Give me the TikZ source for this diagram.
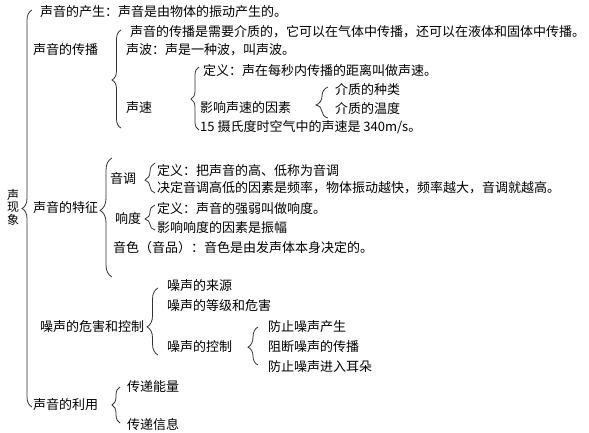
\documentclass[tikz,border=0pt]{standalone}
\usepackage{fontspec}
\setmainfont{Noto Sans CJK SC}
\usetikzlibrary{decorations.pathreplacing}

\begin{document}
\begin{tikzpicture}[x=1pt, y=-1pt,
    every node/.style={inner sep=0pt, anchor=west, font=\fontsize{13}{15}\selectfont},
    curly/.style 2 args={decorate, decoration={brace, amplitude=#1, aspect=#2}, line width=0.8pt, black!80}]
        \useasboundingbox (0,0) rectangle (589,433);
        \node [align=center, anchor=center, font=\fontsize{12}{12.5}\selectfont] (topic) at (13,207) {声\\现\\象};
        % first level
        \node (origin) at (40,12) {声音的产生：声音是由物体的振动产生的。};
        \node (spread) at (33,50) {声音的传播};
        \node (feature) at (33,208) {声音的特征};
        \node (noise) at (40,327) {噪声的危害和控制};
        \node (use) at (33,405) {声音的利用};
        % propagation
        \node (medium) at (130,32) {声音的传播是需要介质的，它可以在气体中传播，还可以在液体和固体中传播。};
        \node (wave) at (126,50) {声波：声是一种波，叫声波。};
        \node (speed) at (126,108) {声速};
        \node (speed-def) at (203,71) {定义：声在每秒内传播的距离叫做声速。};
        \node (speed-factor) at (200,108) {影响声速的因素};
        \node (speed-air) at (200,127) {15 摄氏度时空气中的声速是 340m/s。};
        \foreach \l/\y [count=\i] in {介质的种类/90, 介质的温度/109}
          \node (kind-\i) at (335,\y) {\l};
        % features
        \node (pitch) at (110,179) {音调};
        \node (pitch-def) at (157,171) {定义：把声音的高、低称为音调};
        \node (pitch-factor) at (157,188) {决定音调高低的因素是频率，物体振动越快，频率越大，音调就越高。};
        \node (loud) at (115,219) {响度};
        \node (loud-def) at (157,209) {定义：声音的强弱叫做响度。};
        \node (loud-factor) at (157,228) {影响响度的因素是振幅};
        \node (timbre) at (113,248) {音色（音品）：音色是由发声体本身决定的。};
        % noise
        \foreach \l/\y [count=\i] in {噪声的来源/286, 噪声的等级和危害/306, 噪声的控制/347}
          \node (noise-\i) at (167,\y) {\l};
        \foreach \l/\y [count=\i] in {防止噪声产生/327, 阻断噪声的传播/347, 防止噪声进入耳朵/367}
          \node (ctrl-\i) at (268,\y) {\l};
        % uses
        \foreach \l/\y [count=\i] in {传递能量/387, 传递信息/425}
          \node (use-\i) at (127,\y) {\l};
        % braces
        \foreach \n/\x/\t/\b/\a/\r in {all/32/10/407/10/0.5, spread/121/30/128/9/0.49,
            speed/199/67/130/8/0.49, kinds/328/87/118/12/0.42, feature/112/158/277/12/0.56,
            pitch/155/163/193/10/0.43, loud/155/205/230/10/0.44, noise/158/288/355/11/0.42,
            ctrl/258/327/365/10/0.47, use/120/387/423/8/0.5}
          {
            \coordinate (\n-top) at (\x,\t);
            \coordinate (\n-bot) at (\x,\b);
            \draw [curly={\a}{\r}] (\n-bot) -- (\n-top);
          }
    \end{tikzpicture}
\end{document}
